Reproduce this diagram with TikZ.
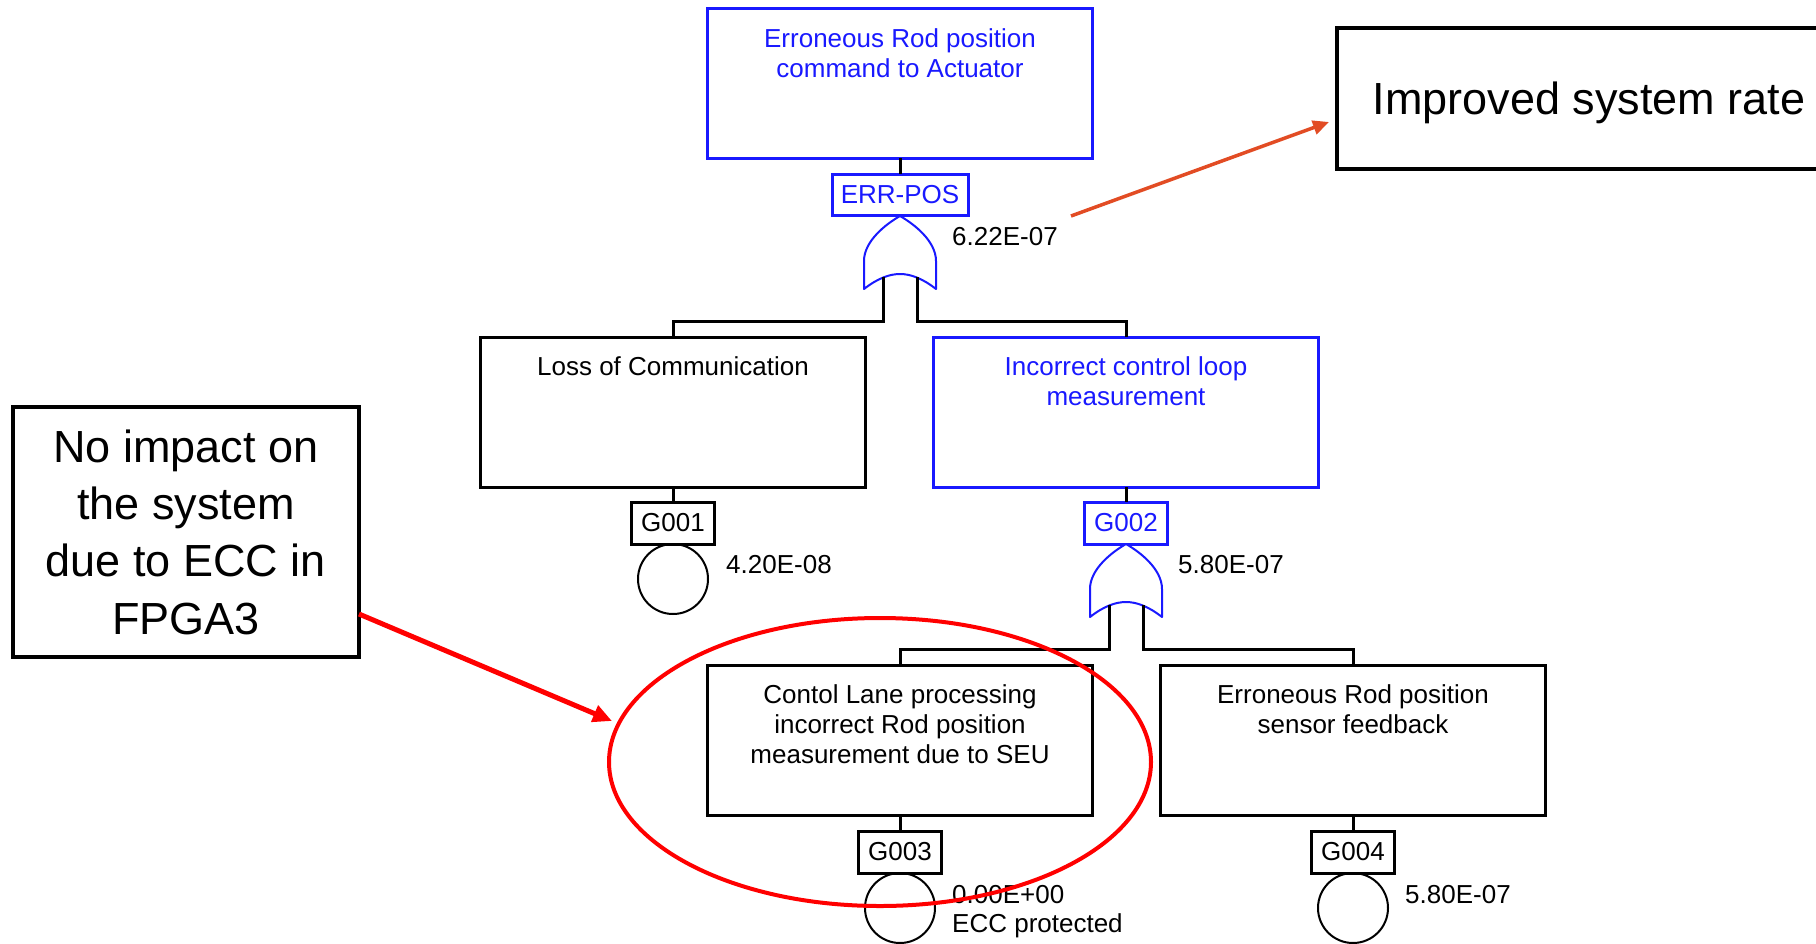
\documentclass[tikz,border=0pt]{standalone}
\usepackage{fontspec}
\setmainfont{Liberation Sans}
\usetikzlibrary{arrows.meta}

\definecolor{ftblue}{RGB}{25,25,255}
\definecolor{markred}{RGB}{255,0,0}
\definecolor{noteorange}{RGB}{226,76,36}

\tikzset{
  conn/.style={draw=black, line width=3pt},
  evbox/.style={draw=black, line width=3pt, minimum width=385pt, minimum height=150pt,
                inner sep=0pt, outer sep=0pt},
  bluebox/.style={evbox, draw=ftblue},
  evtext/.style={anchor=north, align=center, inner sep=0pt,
                 font=\fontsize{26}{30}\selectfont},
  gatebox/.style={draw=black, line width=3pt, minimum width=83pt, minimum height=42pt,
                  inner sep=0pt, outer sep=0pt, font=\fontsize{26}{30}\selectfont},
  basic/.style={circle, draw=black, line width=2pt, minimum size=70pt,
                inner sep=0pt, outer sep=0pt},
  prob/.style={anchor=base west, inner sep=0pt, font=\fontsize{26}{30}\selectfont},
  gateline/.style={draw=ftblue, line width=2pt, line join=round, fill=white},
  callout/.style={draw=black, line width=4pt, inner sep=0pt, outer sep=0pt,
                  align=center, font=\fontsize{45}{57.3}\selectfont},
  orgate/.pic={
    \draw[gateline] (0,0) .. controls (14,8) and (36,25) .. (36,45) -- (36,73)
       .. controls (22,62) and (10,58) .. (0,58)
       .. controls (-10,58) and (-22,62) .. (-36,73) -- (-36,45)
       .. controls (-36,25) and (-14,8) .. cycle;
    \coordinate (-inL) at (-17,61);
    \coordinate (-inR) at (17,61);
  }
}

\begin{document}
\begin{tikzpicture}[x=1pt, y=-1pt]
\useasboundingbox (0,0) rectangle (1816,943);
\fill[white] (0,0) rectangle (1816,943);

% ---- top event ----
\node[bluebox] (top) at (900,83) {};
\node[evtext, text=ftblue] (topTxt) at ([yshift=-20pt]top.north)
  {Erroneous Rod position\\command to Actuator};
\node[gatebox, draw=ftblue, text=ftblue, minimum width=136pt, minimum height=41pt]
  (errpos) at (900,194.5) {ERR-POS};
\draw[conn] (top.south) -- (errpos.north);
\pic (g1) at (900,216) {orgate};
\node[prob] (p1) at (952,245) {6.22E-07};

% ---- second level ----
\node[evbox] (loss) at (673,412) {};
\node[evtext] (lossTxt) at ([yshift=-19pt]loss.north) {Loss of Communication};
\node[bluebox] (loop) at (1126,412) {};
\node[evtext, text=ftblue] (loopTxt) at ([yshift=-19pt]loop.north)
  {Incorrect control loop\\measurement};

\draw[conn] (g1-inL) -- ++(0,44) -| (loss.north);
\draw[conn] (g1-inR) -- ++(0,44) -| (loop.north);

\node[gatebox] (g001) at (673,523) {G001};
\draw[conn] (loss.south) -- (g001.north);
\node[basic] (b1) at (673,579) {};
\node[prob] (p2) at (726,573) {4.20E-08};

\node[gatebox, draw=ftblue, text=ftblue] (g002) at (1126,523) {G002};
\draw[conn] (loop.south) -- (g002.north);
\pic (g2) at (1126,544) {orgate};
\node[prob] (p3) at (1178,573) {5.80E-07};

% ---- third level ----
\node[evbox] (lane) at (900,740) {};
\node[evtext] (laneTxt) at ([yshift=-19pt]lane.north)
  {Contol Lane processing\\incorrect Rod position\\measurement due to SEU};
\node[evbox] (sensor) at (1353,740) {};
\node[evtext] (sensorTxt) at ([yshift=-19pt]sensor.north)
  {Erroneous Rod position\\sensor feedback};

\draw[conn] (g2-inL) -- ++(0,44) -| (lane.north);
\draw[conn] (g2-inR) -- ++(0,44) -| (sensor.north);

\node[gatebox] (g003) at (900,852) {G003};
\draw[conn] (lane.south) -- (g003.north);
\node[basic] (b3) at (900,908) {};
\node[prob] (p4) at (952,903) {0.00E+00};
\node[prob] (p4b) at (952,932) {ECC protected};

\node[gatebox] (g004) at (1353,852) {G004};
\draw[conn] (sensor.south) -- (g004.north);
\node[basic] (b4) at (1353,908) {};
\node[prob] (p5) at (1405,903) {5.80E-07};

% ---- annotations ----
% red ring around the SEU branch
\draw[draw=markred, line width=4pt] (880,762) ellipse [x radius=271pt, y radius=144pt];
\coordinate (ringMark) at (612,721);

\node[callout, text depth=0pt, minimum width=504pt, minimum height=141pt] (rate) at (1589,98)
  {Improved system rate};
\coordinate (rateTail) at (1071,216);
\draw[draw=noteorange, line width=3.5pt,
      -{Triangle[length=16pt,width=14pt]}]
  (rateTail) -- ([xshift=-8pt,yshift=-24pt]rate.west);

\node[callout, minimum width=346pt, minimum height=250pt] (note) at (186,532)
  {No impact on\\the system\\due to ECC in\\FPGA3};
\draw[draw=markred, line width=5pt,
      -{Triangle[length=19pt,width=17pt]}]
  ([yshift=-82pt]note.east) -- (ringMark);
\end{tikzpicture}
\end{document}
